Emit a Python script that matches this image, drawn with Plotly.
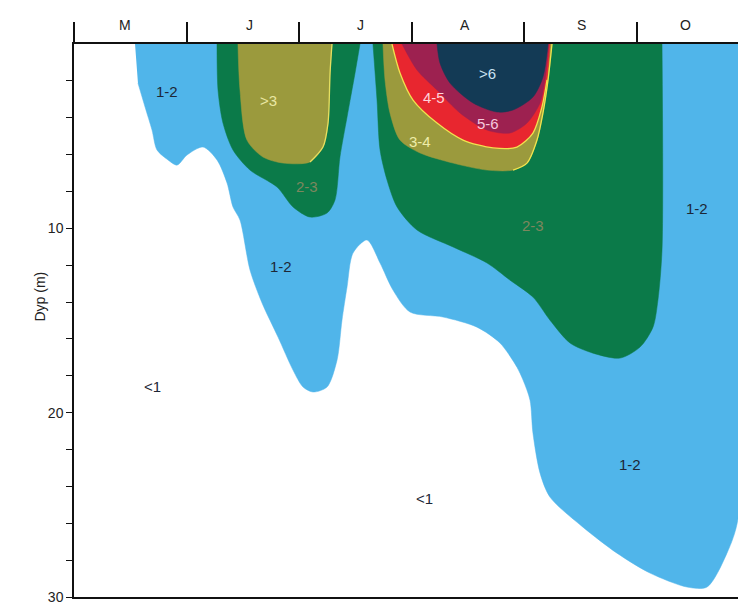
import plotly.graph_objects as go

# x in months from 1 May (0) ; depth in metres
months = ["M", "J", "J", "A", "S", "O"]
month_pos = [0.45, 1.56, 2.54, 3.47, 4.51, 5.43]
month_bounds = [0, 1, 2, 3, 4, 5]
depth_ticks = [2, 4, 6, 8, 10, 12, 14, 16, 18, 20, 22, 24, 26, 28, 30]
depth_labels = ["10", "20", "30"]

# class 1-2 (outer envelope)
c12_x = [0.542, 5.9, 5.9, 5.799, 5.622, 5.444, 5.115, 4.822, 4.520, 4.227, 4.139, 4.076, 4.050,
         3.988, 3.934, 3.783, 3.579, 3.277, 2.984, 2.833, 2.718, 2.602, 2.478, 2.425, 2.380,
         2.336, 2.247, 2.123, 2.034, 1.945, 1.812, 1.670, 1.563, 1.474, 1.412, 1.359, 1.270,
         1.146, 1.004, 0.915, 0.835, 0.737, 0.693, 0.631, 0.568]
c12_d = [0.0, 0.0, 25.66, 27.62, 29.46, 29.46, 28.70, 27.62, 26.21, 24.58, 23.28, 21.11, 19.32,
         18.23, 17.53, 16.22, 15.36, 14.81, 14.54, 13.35, 11.88, 10.63, 11.34, 13.18, 14.98,
         17.15, 18.61, 18.88, 18.61, 17.69, 15.90, 14.05, 12.26, 9.55, 8.84, 7.54, 6.29,
         5.59, 6.02, 6.57, 6.29, 5.75, 4.67, 3.42, 2.12]

# class 2-3, June patch
g1_x = [1.270, 1.279, 1.323, 1.412, 1.563, 1.803, 1.945, 2.096, 2.247, 2.318, 2.362, 2.425, 2.496, 2.540]
g1_d = [0.0, 2.50, 4.29, 5.75, 6.84, 7.76, 8.84, 9.39, 9.17, 8.46, 6.13, 3.96, 1.57, 0.0]

# class >3, June patch
o1_x = [1.456, 1.474, 1.536, 1.678, 1.856, 2.096, 2.211, 2.256, 2.274, 2.291]
o1_d = [0.0, 2.50, 5.21, 6.13, 6.46, 6.40, 5.59, 4.29, 1.57, 0.0]

# class 2-3, summer patch
g2_x = [2.655, 2.691, 2.718, 2.780, 2.869, 3.046, 3.366, 3.668, 3.872, 4.076, 4.227, 4.405,
        4.609, 4.849, 5.027, 5.142, 5.186, 5.222, 5.222]
g2_d = [0.0, 3.04, 5.75, 7.38, 8.84, 10.09, 11.01, 11.88, 12.81, 13.73, 14.98, 16.22,
        16.77, 17.04, 16.44, 15.36, 13.89, 11.18, 0.0]

# class 3-4
o2_x = [2.744, 2.762, 2.806, 2.895, 3.073, 3.366, 3.668, 3.899, 4.023, 4.112, 4.165, 4.210, 4.245]
o2_d = [0.0, 1.95, 3.74, 5.21, 5.91, 6.46, 6.84, 6.84, 6.46, 5.21, 3.74, 1.95, 0.0]

# class 4-5
r_x = [2.824, 2.895, 3.011, 3.224, 3.455, 3.721, 3.934, 4.076, 4.156, 4.201, 4.227]
r_d = [0.0, 1.57, 3.04, 4.29, 5.21, 5.64, 5.59, 4.83, 3.42, 1.95, 0.0]

# class 5-6
m_x = [2.913, 3.046, 3.224, 3.428, 3.668, 3.872, 4.023, 4.139, 4.183, 4.218]
m_d = [0.0, 1.41, 2.50, 3.74, 4.67, 4.83, 4.29, 3.20, 1.95, 0.0]

# class >6
n_x = [3.224, 3.250, 3.339, 3.544, 3.757, 3.899, 4.076, 4.165, 4.210]
n_d = [0.0, 1.03, 2.12, 3.20, 3.69, 3.58, 2.88, 1.79, 0.0]

# labels
lab_text = ["1-2", "1-2", "1-2", "1-2", "<1", "<1", ">3", "2-3", "2-3", "3-4", "4-5", "5-6", ">6"]
lab_x = [0.826, 1.84, 5.533, 4.938, 0.693, 3.117, 1.723, 2.069, 4.076, 3.073, 3.197, 3.677, 3.668]
lab_d = [2.55, 12.05, 8.95, 22.8, 18.6, 24.65, 3.05, 7.75, 9.85, 5.3, 2.88, 4.3, 1.6]
lab_col = ["#1d2736", "#1d2736", "#1d2736", "#1d2736", "#1d2736", "#1d2736", "#e9e7a4",
           "#7d875e", "#7d875e", "#eeeca8", "#ffd3da", "#f6c9de", "#c9e2f2"]

fig = go.Figure()


def patch(x, y, color):
    fig.add_trace(go.Scatter(x=x, y=y, mode="lines", fill="toself", fillcolor=color,
                             line=dict(color=color, width=0.5, shape="spline", smoothing=0.8),
                             hoverinfo="skip", showlegend=False))


def edge(x, y, color):
    fig.add_trace(go.Scatter(x=x, y=y, mode="lines",
                             line=dict(color=color, width=1.3, shape="spline", smoothing=0.8),
                             hoverinfo="skip", showlegend=False))


patch(c12_x, c12_d, "#50b5ea")
patch(g1_x, g1_d, "#0b7a49")
patch(o1_x, o1_d, "#9b9a3d")
patch(g2_x, g2_d, "#0b7a49")
patch(o2_x, o2_d, "#9b9a3d")
patch(r_x, r_d, "#e8262f")
patch(m_x, m_d, "#9d2150")
patch(n_x, n_d, "#133a55")
edge(r_x[:-1], r_d[:-1], "#f0e44e")
edge(o2_x[7:], o2_d[7:], "#f0e44e")
edge(o1_x[5:], o1_d[5:], "#e6df60")

for t, x, y, c in zip(lab_text, lab_x, lab_d, lab_col):
    fig.add_annotation(x=x, y=y, text=t, showarrow=False,
                       font=dict(family="Arial, Liberation Sans", size=15, color=c))

for t, x in zip(months, month_pos):
    fig.add_annotation(x=x, y=1, xref="x", yref="paper", yshift=19, yanchor="middle",
                       text=t, showarrow=False,
                       font=dict(family="Arial, Liberation Sans", size=14, color="#222"))

fig.add_annotation(x=0, xref="paper", xshift=-44, y=13.7, yref="y", text="Dyp (m)",
                   textangle=-90, showarrow=False,
                   font=dict(family="Arial, Liberation Sans", size=14, color="#222"))

fig.update_layout(
    width=738, height=606,
    margin=dict(l=74, r=0, t=44, b=9),
    paper_bgcolor="white", plot_bgcolor="white",
    xaxis=dict(range=[0, 5.897], side="top", showline=True, linecolor="#111", linewidth=1.5,
               mirror=True, ticks="outside", tickvals=month_bounds, ticklen=20, tickwidth=1.5,
               tickcolor="#111", showticklabels=False, showgrid=False, zeroline=False),
    yaxis=dict(range=[30, 0], showline=True, linecolor="#111", linewidth=1.5,
               ticks="outside", tickvals=depth_ticks,
               ticktext=[(str(v) if str(v) in depth_labels else "") for v in depth_ticks],
               ticklen=6, tickwidth=1, tickcolor="#111", showgrid=False, zeroline=False,
               tickfont=dict(family="Arial, Liberation Sans", size=14, color="#222")),
)

fig.write_html("out.html")
